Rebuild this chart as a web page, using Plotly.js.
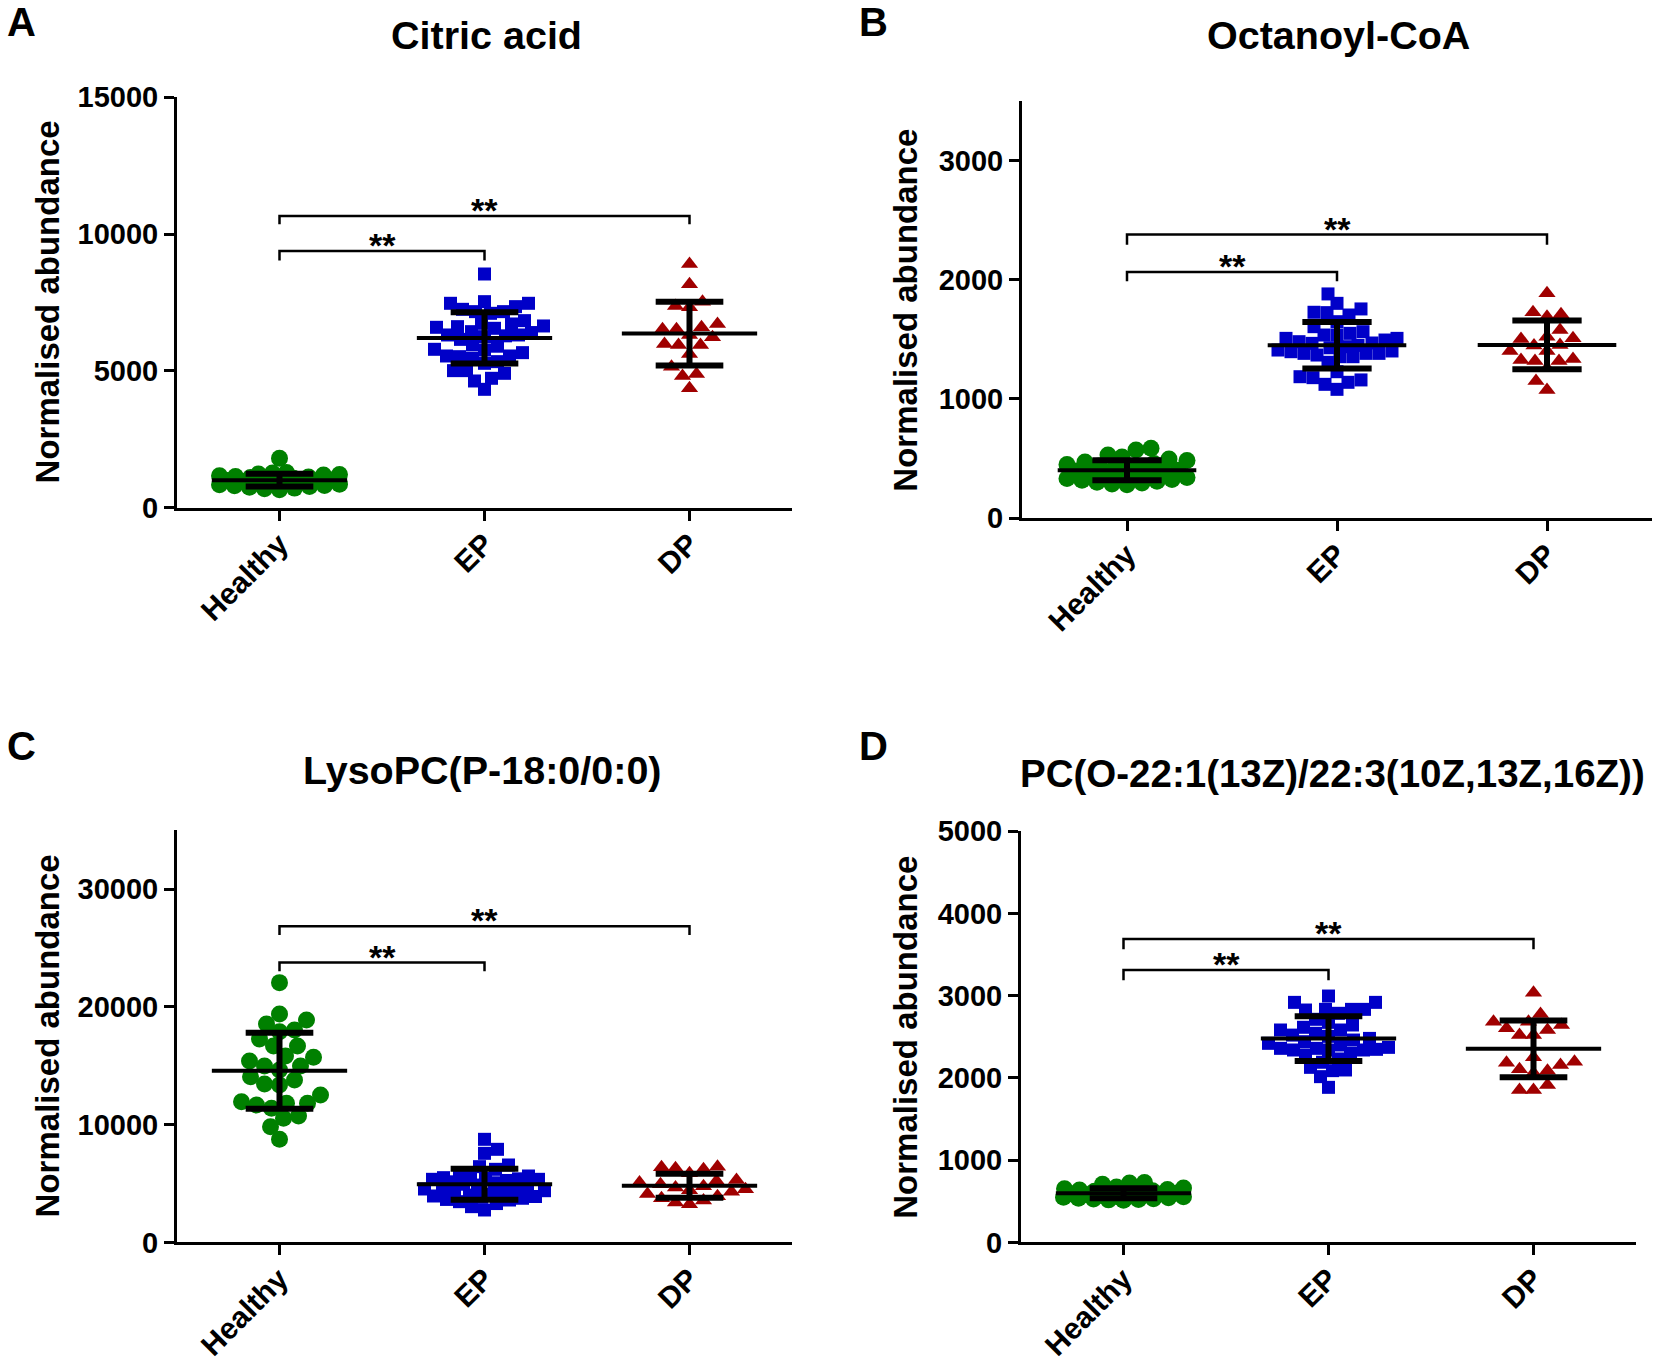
<!DOCTYPE html>
<html>
<head>
<meta charset="utf-8">
<script src="https://cdn.plot.ly/plotly-3.0.1.min.js"></script>
<style>html,body{margin:0;padding:0;background:#fff;}#chart{width:1658px;height:1365px;}</style>
</head>
<body>
<div id="chart"></div>
<script>
// ---------------- DATA ----------------
const categories = ['Healthy', 'EP', 'DP'];
const panelTitles = ['Citric acid', 'Octanoyl-CoA', 'LysoPC(P-18:0/0:0)', 'PC(O-22:1(13Z)/22:3(10Z,13Z,16Z))'];
const panelLetters = ['A', 'B', 'C', 'D'];
const yAxisLabel = 'Normalised abundance';
const sigLabel = '**';

const citric_healthy = [1803, 1285, 1262, 1231, 1214, 1188, 1166, 1139, 1115, 1098, 1072, 1049, 1031, 1012, 993, 978, 955, 938, 917, 896, 871, 858, 833, 812, 795, 768, 746, 712, 688, 655];
const citric_ep = [8540, 7529, 7469, 7469, 7347, 7249, 7164, 7164, 7103, 6835, 6737, 6713, 6640, 6615, 6591, 6555, 6432, 6400, 6311, 6311, 6280, 6250, 6150, 5950, 5900, 5787, 5762, 5665, 5543, 5543, 5518, 5458, 5336, 5275, 5007, 5007, 4909, 4727, 4629, 4324];
const citric_dp = [8907, 8163, 7529, 7371, 7322, 6713, 6591, 6518, 6518, 6311, 6225, 5982, 5945, 5945, 5616, 5153, 4885, 4812, 4361];

const octanoyl_healthy = [586, 572, 530, 512, 497, 483, 470, 458, 449, 437, 428, 419, 410, 402, 395, 388, 380, 372, 365, 357, 349, 341, 333, 325, 317, 309, 301, 294, 287, 280];
const octanoyl_ep = [1882, 1803, 1756, 1728, 1725, 1705, 1649, 1607, 1565, 1551, 1537, 1537, 1509, 1509, 1495, 1481, 1470, 1467, 1450, 1439, 1430, 1411, 1403, 1397, 1383, 1383, 1383, 1369, 1355, 1355, 1308, 1229, 1187, 1179, 1160, 1140, 1123, 1081];
const octanoyl_dp = [1887, 1728, 1711, 1691, 1579, 1523, 1509, 1504, 1453, 1448, 1403, 1403, 1336, 1327, 1319, 1319, 1258, 1151, 1076];

const lysopc_healthy = [22068, 19405, 18895, 18556, 18046, 17904, 17281, 16687, 16687, 15837, 15724, 15412, 14987, 14987, 14648, 14081, 13798, 13458, 13373, 12523, 11957, 11816, 11816, 11674, 11391, 10739, 10541, 9833, 8757];
const lysopc_ep = [8757, 7907, 7567, 6576, 6434, 6208, 5726, 5641, 5528, 5500, 5443, 5400, 5359, 5359, 5262, 5148, 5063, 4941, 4872, 4755, 4668, 4537, 4481, 4392, 4310, 4215, 4087, 4020, 3942, 3900, 3829, 3750, 3650, 3602, 3461, 3300, 3036, 2753];
const lysopc_dp = [6434, 6378, 6293, 6208, 5868, 5302, 5214, 5085, 4930, 4762, 4655, 4518, 4437, 4296, 4108, 3925, 3741, 3562, 3390, 3235];

const pc_healthy = [728, 722, 706, 672, 661, 652, 644, 636, 628, 621, 615, 609, 603, 598, 592, 587, 581, 576, 570, 565, 559, 554, 548, 543, 538, 532, 527, 521, 517, 512];
const pc_ep = [2995, 2918, 2918, 2833, 2833, 2833, 2825, 2785, 2712, 2675, 2643, 2615, 2582, 2582, 2542, 2520, 2505, 2480, 2460, 2440, 2420, 2400, 2371, 2359, 2359, 2347, 2339, 2339, 2339, 2298, 2278, 2230, 2190, 2128, 2096, 2088, 2015, 1885];
const pc_dp = [3036, 2777, 2683, 2683, 2643, 2602, 2582, 2521, 2521, 2250, 2197, 2185, 2157, 2104, 2088, 2060, 1913, 1853, 1853];

// ---------------- LAYOUT CONFIG (positions in px of the 1658x1365 page) ----------------
const W = 1658, H = 1365;
const FONT = '"Liberation Sans", Arial, Helvetica, sans-serif';
const SZ = {ytick: 29, xtick: 30, ytitle: 33, title: 39.5, titleD: 38.5, letter: 40, star: 34};
const groupStyles = [
  {symbol: 'circle', color: '#008000', size: 17, diam: 15},
  {symbol: 'square', color: '#0000c8', size: 13, diam: 13},
  {symbol: 'triangle-up', color: '#a00000', size: 15, diam: 14}
];
const panels = [
  {groups: [citric_healthy, citric_ep, citric_dp], yr: [0, 15000], dtick: 5000,
   xpx: [177, 792], ypx: [507.6, 97.3], br: [[0, 1, 9036, 9378], [0, 2, 10362, 10660]],
   titlePos: [486, 35], letterPos: [21, 22], ytitleX: 47, titleSize: SZ.title},
  {groups: [octanoyl_healthy, octanoyl_ep, octanoyl_dp], yr: [0, 3500], dtick: 1000,
   xpx: [1022, 1652], ypx: [518.1, 101.2], br: [[0, 1, 1988, 2066], [0, 2, 2294, 2380]],
   titlePos: [1338, 35], letterPos: [873, 22], ytitleX: 906, titleSize: SZ.title},
  {groups: [lysopc_healthy, lysopc_ep, lysopc_dp], yr: [0, 35000], dtick: 10000,
   xpx: [177, 792], ypx: [1242.4, 830.4], br: [[0, 1, 23043, 23768], [0, 2, 26123, 26848]],
   titlePos: [482, 770], letterPos: [21, 746], ytitleX: 47, titleSize: SZ.title},
  {groups: [pc_healthy, pc_ep, pc_dp], yr: [0, 5000], dtick: 1000,
   xpx: [1021, 1636], ypx: [1242.4, 831.1], br: [[0, 1, 3187, 3311], [0, 2, 3565, 3689]],
   titlePos: [1332, 773], letterPos: [873, 746], ytitleX: 906, titleSize: SZ.titleD}
];
const XR = [-0.5, 2.5];

function meanSD(a) {
  const m = a.reduce((s, v) => s + v, 0) / a.length;
  const sd = Math.sqrt(a.reduce((s, v) => s + (v - m) * (v - m), 0) / (a.length - 1));
  return [m, sd];
}

// beeswarm: horizontal pixel offsets so markers do not overlap (limited width)
function swarm(vals, diam, pyScale, maxPx) {
  const order = vals.map((v, i) => i).sort((a, b) => vals[a] - vals[b]);
  const placed = [];
  const out = new Array(vals.length).fill(0);
  let flip = 1;
  for (const i of order) {
    const y = vals[i] * pyScale;
    let chosen = null, bestX = 0, bestD = -1;
    for (let k = 0; k <= maxPx && chosen === null; k += 1) {
      const cands = k === 0 ? [0] : [flip * k, -flip * k];
      for (const x of cands) {
        let minD = Infinity;
        for (const p of placed) {
          const d = Math.hypot(p.x - x, p.y - y);
          if (d < minD) minD = d;
        }
        if (minD >= diam) { chosen = x; break; }
        if (minD > bestD) { bestD = minD; bestX = x; }
      }
    }
    const x = chosen === null ? bestX : chosen;
    flip = -flip;
    placed.push({x: x, y: y});
    out[i] = x;
  }
  return out;
}

const traces = [];
const layout = {
  width: W, height: H, margin: {l: 0, r: 0, t: 0, b: 0},
  paper_bgcolor: '#fff', plot_bgcolor: '#fff', showlegend: false,
  font: {family: FONT, color: '#000'},
  annotations: [], shapes: []
};

panels.forEach((p, pi) => {
  const n = pi + 1;
  const xa = 'x' + (n === 1 ? '' : n), ya = 'y' + (n === 1 ? '' : n);
  const xk = 'xaxis' + (n === 1 ? '' : n), yk = 'yaxis' + (n === 1 ? '' : n);
  const unitPx = (p.xpx[1] - p.xpx[0]) / (XR[1] - XR[0]);
  const pyScale = (p.ypx[0] - p.ypx[1]) / (p.yr[1] - p.yr[0]);

  layout[xk] = {
    domain: [p.xpx[0] / W, p.xpx[1] / W], range: XR, anchor: ya,
    tickvals: [0, 1, 2], ticktext: categories, tickangle: -45, ticklabelstandoff: -6,
    ticks: 'outside', ticklen: 10, tickwidth: 3, tickcolor: '#000',
    showline: true, linewidth: 3, linecolor: '#000', showgrid: false, zeroline: false,
    tickfont: {family: FONT, size: SZ.xtick, weight: 'bold', color: '#000'}
  };
  layout[yk] = {
    domain: [1 - p.ypx[0] / H, 1 - p.ypx[1] / H], range: p.yr, anchor: xa,
    tick0: 0, dtick: p.dtick, tickformat: 'd',
    ticks: 'outside', ticklen: 10, tickwidth: 3, tickcolor: '#000',
    showline: true, linewidth: 3, linecolor: '#000', showgrid: false, zeroline: false,
    tickfont: {family: FONT, size: SZ.ytick, weight: 'bold', color: '#000'}
  };

  // scatter points
  p.groups.forEach((vals, gi) => {
    const st = groupStyles[gi];
    const off = swarm(vals, st.diam, pyScale, 60);
    traces.push({
      type: 'scatter', mode: 'markers', xaxis: xa, yaxis: ya,
      x: vals.map((v, i) => gi + off[i] / unitPx), y: vals,
      marker: {symbol: st.symbol, color: st.color, size: st.size, line: {width: 0}},
      cliponaxis: false, hoverinfo: 'y'
    });
  });
  // mean and SD
  p.groups.forEach((vals, gi) => {
    const [m, sd] = meanSD(vals);
    const line = (xs, ys, w) => traces.push({
      type: 'scatter', mode: 'lines', xaxis: xa, yaxis: ya, x: xs, y: ys,
      line: {color: '#000', width: w}, cliponaxis: false, hoverinfo: 'skip'
    });
    line([gi - 0.33, gi + 0.33], [m, m], 4);
    line([gi, gi], [m - sd, m + sd], 6);
    line([gi - 0.165, gi + 0.165], [m + sd, m + sd], 6);
    line([gi - 0.165, gi + 0.165], [m - sd, m - sd], 6);
  });

  // significance brackets
  p.br.forEach(b => {
    const [x0, x1, yb, yt] = b;
    layout.shapes.push({
      type: 'path', xref: xa, yref: ya,
      path: `M ${x0},${yb} L ${x0},${yt} L ${x1},${yt} L ${x1},${yb}`,
      line: {color: '#000', width: 2.5}
    });
    layout.annotations.push({
      xref: xa, yref: ya, x: (x0 + x1) / 2, y: yt, text: sigLabel, showarrow: false,
      xanchor: 'center', yanchor: 'middle', yshift: 6,
      font: {family: FONT, size: SZ.star, weight: 'bold', color: '#000'}
    });
  });

  // panel title, letter, y-axis title
  layout.annotations.push({
    xref: 'paper', yref: 'paper', x: p.titlePos[0] / W, y: 1 - p.titlePos[1] / H,
    text: panelTitles[pi], showarrow: false, xanchor: 'center', yanchor: 'middle',
    font: {family: FONT, size: p.titleSize, weight: 'bold', color: '#000'}
  });
  layout.annotations.push({
    xref: 'paper', yref: 'paper', x: p.letterPos[0] / W, y: 1 - p.letterPos[1] / H,
    text: panelLetters[pi], showarrow: false, xanchor: 'center', yanchor: 'middle',
    font: {family: FONT, size: SZ.letter, weight: 'bold', color: '#000'}
  });
  layout.annotations.push({
    xref: 'paper', yref: 'paper', x: p.ytitleX / W, y: 1 - ((p.ypx[0] + p.ypx[1]) / 2) / H,
    text: yAxisLabel, showarrow: false, textangle: -90, xanchor: 'center', yanchor: 'middle',
    font: {family: FONT, size: SZ.ytitle, weight: 'bold', color: '#000'}
  });
});

Plotly.newPlot('chart', traces, layout, {staticPlot: true, displayModeBar: false});
</script>
</body>
</html>
